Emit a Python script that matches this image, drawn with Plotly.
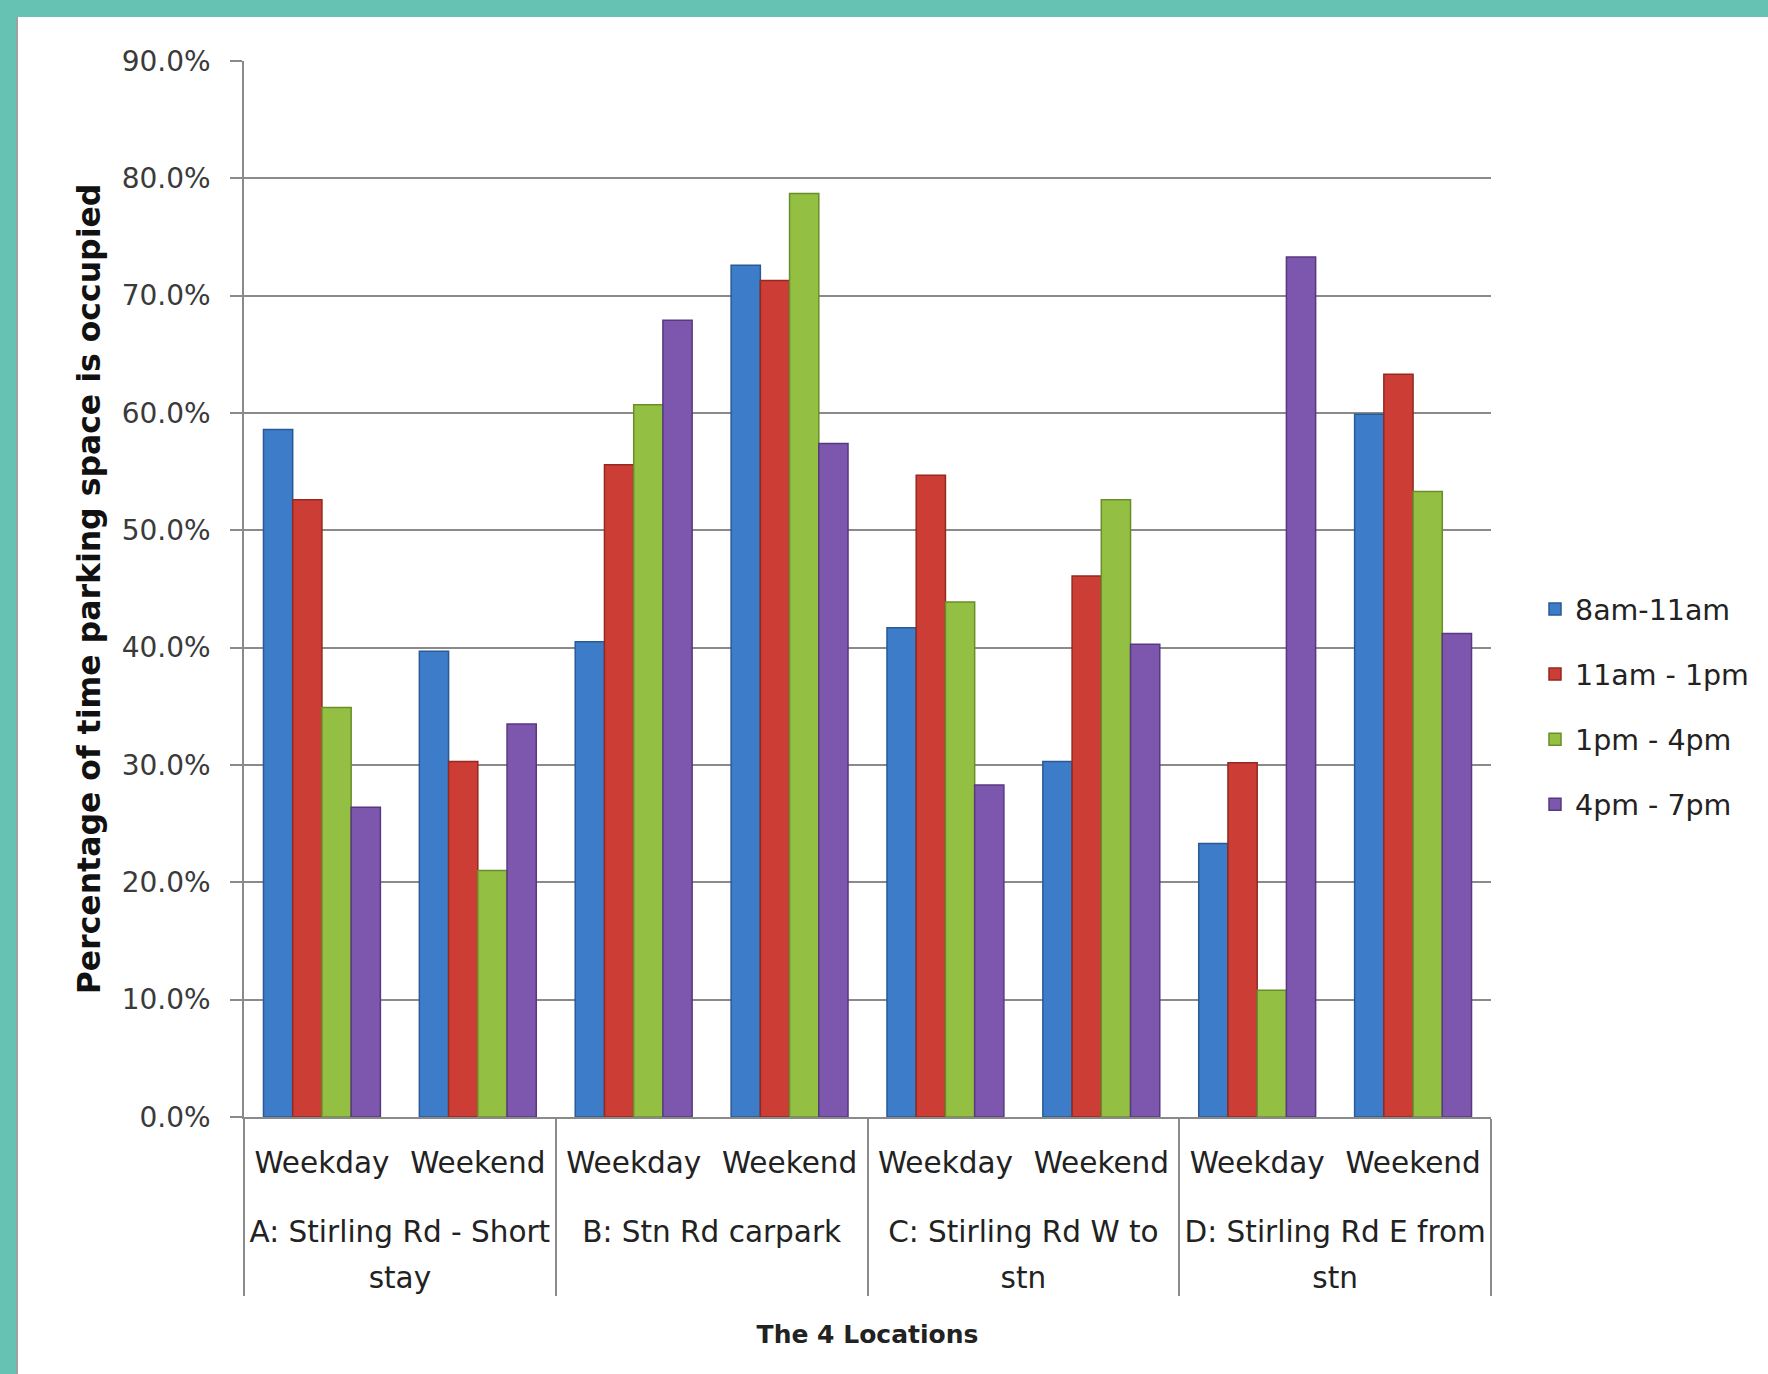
import plotly.graph_objects as go

# ---- data ----
locations = ["A: Stirling Rd - Short<br>stay", "B: Stn Rd carpark",
             "C: Stirling Rd W to<br>stn", "D: Stirling Rd E from<br>stn"]
periods = ["Weekday", "Weekend"]
series_names = ["8am-11am", "11am - 1pm", "1pm - 4pm", "4pm - 7pm"]
# values in percent, order: A-Wd, A-We, B-Wd, B-We, C-Wd, C-We, D-Wd, D-We
v_8_11 = [58.6, 39.7, 40.5, 72.6, 41.7, 30.3, 23.3, 59.9]
v_11_1 = [52.6, 30.3, 55.6, 71.3, 54.7, 46.1, 30.2, 63.3]
v_1_4 = [34.9, 21.0, 60.7, 78.7, 43.9, 52.6, 10.8, 53.3]
v_4_7 = [26.4, 33.5, 67.9, 57.4, 28.3, 40.3, 73.3, 41.2]
y_ticks = [0, 10, 20, 30, 40, 50, 60, 70, 80, 90]

colors = ["#3D7CC9", "#CC3D36", "#93C043", "#7D56AD"]
edge = ["#2A5A96", "#93291F", "#6A8D2A", "#58397F"]

LABEL_PX = 29.5


def styled(s):
    return "<br>".join(
        f"<span style='font-size:{LABEL_PX}px'>{part}</span>" for part in s.split("<br>")
    )


lvl0 = ["<br>" + styled(loc) for loc in locations for _ in periods]
lvl1 = [styled(p) for _ in locations for p in periods]

W, H = 1768, 1374
ML, MR, MT, MB = 244, 277, 61, 257
PW, PH = W - ML - MR, H - MT - MB

fig = go.Figure()
for name, vals, c, e in zip(series_names, [v_8_11, v_11_1, v_1_4, v_4_7], colors, edge):
    fig.add_trace(go.Bar(
        x=[lvl0, lvl1], y=[v / 100 for v in vals], name=name,
        legendgroup=name,
        marker=dict(color=c, line=dict(color=e, width=1.5)),
    ))

font = "DejaVu Sans"


def px_x(px):
    return (px - ML) / PW


def px_y(px):
    return 1 + (MT - px) / PH


shapes = [
    dict(type="rect", xref="paper", yref="paper", x0=px_x(-5), x1=px_x(16),
         y0=px_y(H + 5), y1=px_y(-5), fillcolor="#66C2B3", line_width=0, layer="below"),
    dict(type="rect", xref="paper", yref="paper", x0=px_x(-5), x1=px_x(W + 5),
         y0=px_y(17), y1=px_y(-5), fillcolor="#66C2B3", line_width=0, layer="below"),
    dict(type="line", xref="paper", yref="paper", x0=px_x(17), x1=px_x(17),
         y0=px_y(H + 5), y1=px_y(17), line=dict(color="#a0a0a0", width=2), layer="below"),
]

fig.update_layout(
    width=W, height=H,
    margin=dict(l=ML, r=MR, t=MT, b=MB, autoexpand=False),
    paper_bgcolor="white", plot_bgcolor="white",
    barmode="group", bargap=0.25, bargroupgap=0,
    font=dict(family=font, color="#333333"),
    shapes=shapes,
    legend=dict(
        x=px_x(1535), y=px_y(707), xanchor="left", yanchor="middle",
        font=dict(size=28.5, color="#222222", family=font),
        tracegroupgap=25, traceorder="grouped", bgcolor="rgba(0,0,0,0)",
    ),
    xaxis=dict(
        type="multicategory", showline=True, linecolor="#8a8a8a", linewidth=1.5,
        ticks="", showdividers=True, dividercolor="#8a8a8a", dividerwidth=1.5,
        tickfont=dict(size=35, color="#222222", family=font), automargin=False,
        ticklabelstandoff=12,
        title=dict(text="<b>The 4 Locations</b>", font=dict(size=25, color="#222222", family=font),
                   standoff=32),
    ),
    yaxis=dict(
        range=[0, 0.9], tickvals=[t / 100 for t in y_ticks], tickformat=".1%",
        showgrid=True, gridcolor="#8a8a8a", gridwidth=1.5,
        showline=True, linecolor="#8a8a8a", linewidth=1.5,
        ticks="outside", ticklen=12, tickcolor="#8a8a8a", tickwidth=1.5,
        tickfont=dict(size=28, color="#3a3a3a", family=font), automargin=False,
        ticklabelstandoff=14,
        zeroline=False,
        title=dict(text="<b>Percentage of time parking space is occupied</b>",
                   font=dict(size=31.5, color="#111111", family=font), standoff=12),
    ),
)

fig.write_html("out.html")
